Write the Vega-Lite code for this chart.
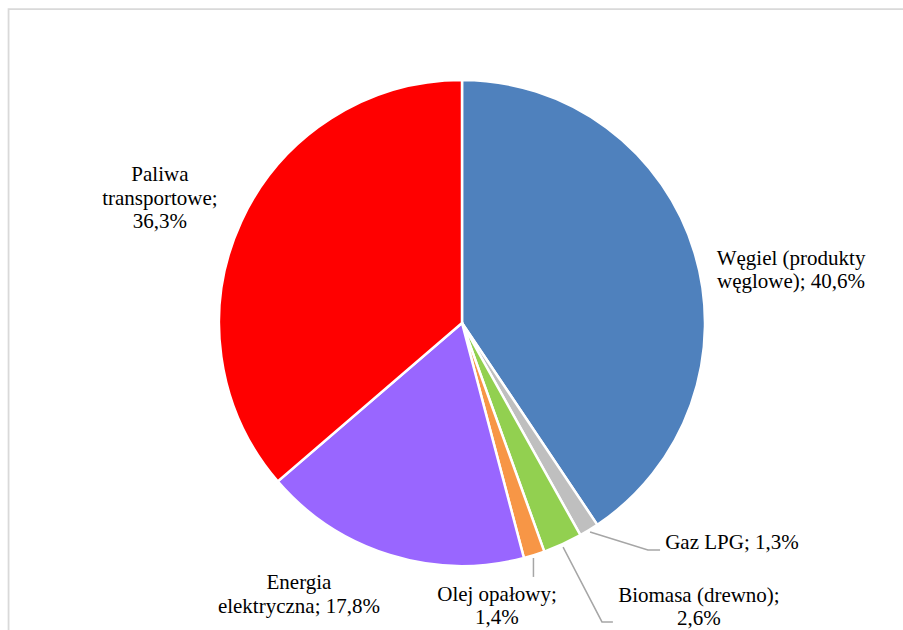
{
  "$schema": "https://vega.github.io/schema/vega-lite/v6.json",
  "width": 882,
  "height": 614,
  "autosize": "none",
  "padding": {"left": 21, "top": 16, "right": 0, "bottom": 0},
  "background": "white",
  "config": {"view": {"stroke": null}},
  "datasets": {
    "slices": [
      {"idx": 1, "name": "Węgiel (produkty węglowe)", "pct": 40.6},
      {"idx": 2, "name": "Gaz LPG", "pct": 1.3},
      {"idx": 3, "name": "Biomasa (drewno)", "pct": 2.6},
      {"idx": 4, "name": "Olej opałowy", "pct": 1.4},
      {"idx": 5, "name": "Energia elektryczna", "pct": 17.8},
      {"idx": 6, "name": "Paliwa transportowe", "pct": 36.3}
    ],
    "labels": [
      {"text": "Węgiel (produkty\nwęglowe); 40,6%", "u": 135.4, "v": 26.5},
      {"text": "Gaz LPG; 1,3%", "u": 111.1, "v": -90.5},
      {"text": "Biomasa (drewno);\n2,6%", "u": 97.5, "v": -112.3},
      {"text": "Olej opałowy;\n1,4%", "u": 14.4, "v": -111.9},
      {"text": "Energia\nelektryczna; 17,8%", "u": -67.1, "v": -107.0},
      {"text": "Paliwa\ntransportowe;\n36,3%", "u": -124.3, "v": 60.9}
    ],
    "leaders": [
      {"id": "gaz", "k": 1, "u": 52.7, "v": -86.0},
      {"id": "gaz", "k": 2, "u": 76.5, "v": -93.4},
      {"id": "gaz", "k": 3, "u": 81.5, "v": -93.4},
      {"id": "bio", "k": 1, "u": 41.6, "v": -92.2},
      {"id": "bio", "k": 2, "u": 57.6, "v": -123.0},
      {"id": "bio", "k": 3, "u": 62.1, "v": -123.0},
      {"id": "olej", "k": 1, "u": 29.4, "v": -96.7},
      {"id": "olej", "k": 2, "u": 29.4, "v": -104.5}
    ],
    "frame": [
      {"id": "left", "k": 1, "u": -186.6, "v": -130},
      {"id": "left", "k": 2, "u": -186.6, "v": 129.2},
      {"id": "left", "k": 3, "u": 185, "v": 129.2}
    ]
  },
  "layer": [
    {
      "data": {"name": "frame"},
      "mark": {"type": "line", "stroke": "#D9D9D9", "strokeWidth": 1.8, "clip": false},
      "encoding": {
        "x": {"field": "u", "type": "quantitative", "scale": {"domain": [-181.48, 181.48], "nice": false, "zero": false}, "axis": null},
        "y": {"field": "v", "type": "quantitative", "scale": {"domain": [-126.34, 126.34], "nice": false, "zero": false}, "axis": null},
        "detail": {"field": "id"},
        "order": {"field": "k"}
      }
    },
    {
      "data": {"name": "slices"},
      "mark": {"type": "arc", "outerRadius": 243, "stroke": "white", "strokeWidth": 2.5},
      "encoding": {
        "x": {"datum": 0, "type": "quantitative"},
        "y": {"datum": 0, "type": "quantitative"},
        "theta": {"field": "pct", "type": "quantitative", "stack": true},
        "order": {"field": "idx", "type": "quantitative"},
        "color": {
          "field": "name",
          "type": "nominal",
          "scale": {
            "domain": ["Węgiel (produkty węglowe)", "Gaz LPG", "Biomasa (drewno)", "Olej opałowy", "Energia elektryczna", "Paliwa transportowe"],
            "range": ["#4F81BD", "#BFBFBF", "#92D050", "#F79646", "#9966FF", "#FF0000"]
          },
          "legend": null
        }
      }
    },
    {
      "data": {"name": "leaders"},
      "mark": {"type": "line", "stroke": "#A6A6A6", "strokeWidth": 1.5, "clip": false},
      "encoding": {
        "x": {"field": "u", "type": "quantitative"},
        "y": {"field": "v", "type": "quantitative"},
        "detail": {"field": "id"},
        "order": {"field": "k"}
      }
    },
    {
      "data": {"name": "labels"},
      "mark": {"type": "text", "font": "Liberation Serif", "fontSize": 21, "lineHeight": 23.5, "lineBreak": "\n", "align": "center", "baseline": "middle", "color": "black", "clip": false},
      "encoding": {
        "x": {"field": "u", "type": "quantitative"},
        "y": {"field": "v", "type": "quantitative"},
        "text": {"field": "text"}
      }
    }
  ]
}
